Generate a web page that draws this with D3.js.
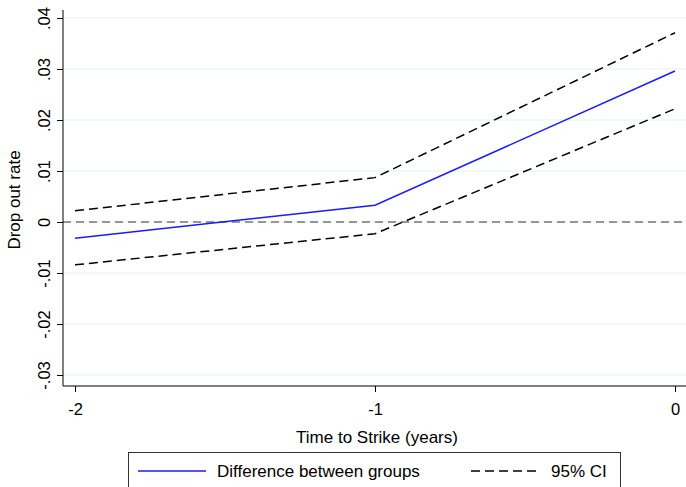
<!DOCTYPE html>
<html>
<head>
<meta charset="utf-8">
<script src="https://cdn.jsdelivr.net/npm/d3@7.9.0/dist/d3.min.js"></script>
<style>
  body { margin: 0; background: #fff; }
  svg { font-family: "Liberation Sans", Arial, sans-serif; }
</style>
</head>
<body>
<svg width="686" height="487"></svg>
<script>
const years = [-2, -1, 0];
const diff = [-0.0032, 0.0033, 0.0296];
const upper = [0.0022, 0.0087, 0.0371];
const lower = [-0.0084, -0.0023, 0.0222];
const yTicks = [-0.03, -0.02, -0.01, 0, 0.01, 0.02, 0.03, 0.04];
const yTickLabels = ['-.03', '-.02', '-.01', '0', '.01', '.02', '.03', '.04'];
const xTicks = [-2, -1, 0];
const xTickLabels = ['-2', '-1', '0'];

const svg = d3.select('svg');
const plotLeft = 63, plotRight = 686, plotTop = 10, plotBottom = 386;
const fs = 17;

// scales
let x = d3.scaleLinear().domain([-2.04, 0.0367]).range([plotLeft, plotRight]);
let y = d3.scaleLinear().domain([-0.03216, 0.04157]).range([plotBottom, plotTop]);

// gridlines
svg.append('g')
  .selectAll('line')
  .data(yTicks)
  .join('line')
  .attr('x1', plotLeft).attr('x2', plotRight)
  .attr('y1', d => y(d)).attr('y2', d => y(d))
  .attr('stroke', '#e6eff1')
  .attr('stroke-width', 1.2);

// zero reference line
svg.append('line')
  .attr('x1', plotLeft).attr('x2', plotRight)
  .attr('y1', y(0)).attr('y2', y(0))
  .attr('stroke', '#777')
  .attr('stroke-width', 1.4)
  .attr('stroke-dasharray', '8,5');

// y axis
let yAxis = d3.axisLeft(y).tickValues(yTicks)
  .tickFormat((d, i) => yTickLabels[i]).tickSize(6).tickSizeOuter(0);
let gy = svg.append('g').attr('transform', `translate(${plotLeft},0)`).call(yAxis);
gy.select('.domain').attr('d', `M0,${plotTop}V${plotBottom}`).attr('stroke', '#000');
gy.selectAll('.tick text')
  .attr('font-size', 16.5)
  .attr('fill', '#000')
  .attr('text-anchor', 'middle')
  .attr('x', 0).attr('dy', 0).attr('y', 0)
  .attr('transform', 'translate(-13,0) rotate(-90)');

// x axis
let xAxis = d3.axisBottom(x).tickValues(xTicks)
  .tickFormat((d, i) => xTickLabels[i]).tickSize(6).tickSizeOuter(0);
let gx = svg.append('g').attr('transform', `translate(0,${plotBottom})`).call(xAxis);
gx.select('.domain').attr('d', `M${plotLeft},0H${plotRight}`).attr('stroke', '#000');
gx.selectAll('text').attr('font-size', 16.5).attr('fill', '#000').attr('dy', '1.2em');

// axis titles
svg.append('text')
  .attr('x', 377).attr('y', 443)
  .attr('text-anchor', 'middle')
  .attr('font-size', fs)
  .text('Time to Strike (years)');
svg.append('text')
  .attr('transform', `translate(20,${(plotTop + plotBottom) / 2 + 2}) rotate(-90)`)
  .attr('text-anchor', 'middle')
  .attr('font-size', fs)
  .text('Drop out rate');

// lines
let line = d3.line().x((d, i) => x(years[i])).y(d => y(d));
svg.append('path').attr('d', line(upper))
  .attr('fill', 'none').attr('stroke', '#000').attr('stroke-width', 1.5)
  .attr('stroke-dasharray', '9,5');
svg.append('path').attr('d', line(lower))
  .attr('fill', 'none').attr('stroke', '#000').attr('stroke-width', 1.5)
  .attr('stroke-dasharray', '9,5');
svg.append('path').attr('d', line(diff))
  .attr('fill', 'none').attr('stroke', '#1a1aff').attr('stroke-width', 1.5);

// legend
let lg = svg.append('g');
lg.append('rect')
  .attr('x', 128.5).attr('y', 452.5).attr('width', 492).attr('height', 40)
  .attr('fill', '#fff').attr('stroke', '#333').attr('stroke-width', 1);
lg.append('line').attr('x1', 138).attr('x2', 206).attr('y1', 471).attr('y2', 471)
  .attr('stroke', '#1a1aff').attr('stroke-width', 1.5);
lg.append('text').attr('x', 217).attr('y', 477).attr('font-size', fs).text('Difference between groups');
lg.append('line').attr('x1', 471).attr('x2', 538).attr('y1', 471).attr('y2', 471)
  .attr('stroke', '#000').attr('stroke-width', 1.5).attr('stroke-dasharray', '9,5');
lg.append('text').attr('x', 551).attr('y', 477).attr('font-size', fs).text('95% CI');
</script>
</body>
</html>
